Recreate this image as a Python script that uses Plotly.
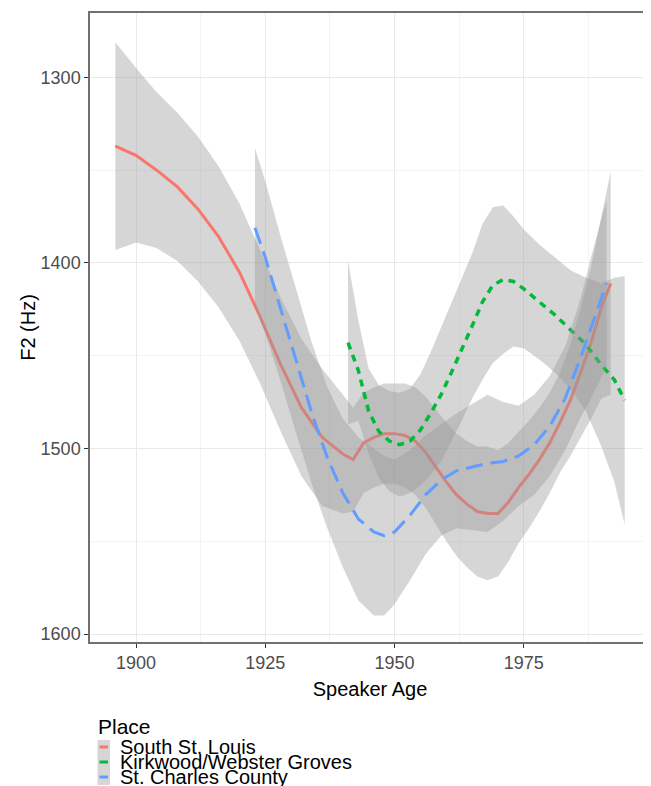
import plotly.graph_objects as go

# ---------------- data ----------------
places = ["South St. Louis", "Kirkwood/Webster Groves", "St. Charles County"]
colors = ["#F8766D", "#00BA38", "#619CFF"]

# South St. Louis
x_red = [1896, 1900, 1904, 1908, 1912, 1916, 1920, 1924, 1928, 1932,
         1936, 1940, 1942, 1944, 1946, 1948, 1950, 1952, 1954, 1956,
         1958, 1960, 1962, 1964, 1966, 1968, 1970, 1972, 1974, 1976,
         1978, 1980, 1982, 1984, 1986, 1988, 1990, 1991.8]
f2_red = [1337, 1342, 1350, 1359, 1371, 1386, 1405, 1429, 1455, 1478,
          1494, 1503, 1506, 1497, 1494, 1492, 1492, 1493, 1496, 1502,
          1510, 1518, 1525, 1530, 1534, 1535, 1535, 1529, 1521, 1514,
          1506, 1497, 1486, 1474, 1459, 1443, 1424, 1411]
ci_red = [56, 47, 42, 40, 39, 38, 37, 36, 36, 37,
          37, 32, 28, 27, 27, 27, 27, 28, 29, 30,
          31, 32, 33, 34, 35, 36, 34, 32, 30, 29,
          28, 27, 27, 30, 35, 41, 49, 60]

# Kirkwood/Webster Groves
x_green = [1941, 1943, 1945, 1947, 1949, 1951, 1953, 1955, 1957, 1959,
           1961, 1963, 1965, 1967, 1969, 1971, 1973, 1975, 1978, 1981,
           1984, 1987, 1990, 1992.5, 1994.5]
f2_green = [1443, 1458, 1480, 1491, 1496, 1498, 1496, 1490, 1481, 1471,
            1459, 1447, 1434, 1421, 1412, 1409, 1410, 1414, 1421, 1428,
            1436, 1444, 1455, 1463, 1474]
ci_green = [44, 27, 23, 25, 27, 28, 28, 30, 33, 36,
            37, 38, 39, 42, 42, 40, 35, 32, 31, 31,
            32, 36, 44, 55, 67]

# St. Charles County
x_blue = [1923, 1925, 1928, 1931, 1934, 1937, 1940, 1943, 1946, 1948,
          1950, 1953, 1956, 1959, 1962, 1965, 1968, 1971, 1974, 1977,
          1980, 1983, 1986, 1988, 1991]
f2_blue = [1381, 1397, 1425, 1453, 1481, 1505, 1524, 1538, 1545, 1547,
           1545, 1536, 1525, 1517, 1512, 1510, 1508, 1507, 1504, 1498,
           1488, 1473, 1451, 1435, 1411]
ci_blue = [43, 41, 39, 39, 38, 38, 40, 44, 45, 43,
           39, 35, 32, 30, 31, 34, 37, 32, 27, 27,
           27, 28, 32, 38, 45]

x_ticks = [1900, 1925, 1950, 1975]
y_ticks = [1300, 1400, 1500, 1600]

series = [
    (x_red, f2_red, ci_red, dict(dash="solid", width=3)),
    (x_green, f2_green, ci_green, dict(dash="7px,6px", width=3.5)),
    (x_blue, f2_blue, ci_blue, dict(dash="17px,8px", width=3)),
]

FONT = "Liberation Sans, Arial, sans-serif"
# the page body adds an 8px offset; the figure is sized to end at the window edge
OFF = 8
W, H = 651 - OFF, 786 - OFF
ML, MR, MT, MB = 82, 1, 5, 144
PW, PH = W - ML - MR, H - MT - MB


def px(xp):  # window pixel -> paper x
    return (xp - OFF - ML) / PW


def py(yp):  # window pixel -> paper y
    return (H - MB - (yp - OFF)) / PH


fig = go.Figure()
for (xs, ys, ci, style), name, col in zip(series, places, colors):
    upper = [y - c for y, c in zip(ys, ci)]
    lower = [y + c for y, c in zip(ys, ci)]
    fig.add_trace(go.Scatter(
        x=xs + xs[::-1], y=upper + lower[::-1],
        fill="toself", fillcolor="rgba(153,153,153,0.4)",
        line=dict(width=0), mode="lines", hoverinfo="skip",
        showlegend=False))
    fig.add_trace(go.Scatter(
        x=xs, y=ys, mode="lines", name=name,
        line=dict(color=col, width=style["width"], dash=style["dash"]),
        showlegend=False))

axis_common = dict(
    automargin=False,
    showgrid=True, gridcolor="#e9e9e9", gridwidth=1,
    zeroline=False, showline=True, mirror=True,
    linecolor="#707070", linewidth=1.5,
    ticks="outside", ticklen=4, tickwidth=1, tickcolor="#333333",
    tickfont=dict(family=FONT, size=18, color="#4d4d4d"),
)

fig.update_xaxes(
    range=[1891.1, 1999.4], tickvals=x_ticks,
    minor=dict(dtick=12.5, tick0=1887.5, showgrid=True,
               gridcolor="#f3f3f3", gridwidth=0.7),
    title=dict(text="Speaker Age", font=dict(family=FONT, size=20, color="#000"),
               standoff=10),
    **axis_common)
fig.update_yaxes(
    range=[1604.3, 1265.3], tickvals=y_ticks,
    minor=dict(dtick=50, tick0=1250, showgrid=True,
               gridcolor="#f3f3f3", gridwidth=0.7),
    title=dict(text="F2 (Hz)", font=dict(family=FONT, size=20, color="#000"),
               standoff=0),
    **axis_common)

# manual legend (ggplot style, tightly packed)
shapes = [dict(type="rect", xref="paper", yref="paper",
               x0=px(97.5), x1=px(110), y0=py(740), y1=py(785),
               fillcolor="#d6d6d6", line=dict(width=0), layer="above")]
annotations = [dict(text="Place", xref="paper", yref="paper", x=px(96), y=py(726),
                    xanchor="left", yanchor="middle", showarrow=False,
                    font=dict(family=FONT, size=21, color="#000"))]
for i, (name, col) in enumerate(zip(places, colors)):
    yc = 747 + 15 * i
    shapes.append(dict(type="line", xref="paper", yref="paper",
                       x0=px(99.5), x1=px(108), y0=py(yc), y1=py(yc),
                       line=dict(color=col, width=3), layer="above"))
    annotations.append(dict(text=name, xref="paper", yref="paper",
                            x=px(118), y=py(yc), xanchor="left", yanchor="middle",
                            showarrow=False,
                            font=dict(family=FONT, size=20, color="#000")))

fig.update_layout(
    width=W, height=H,
    margin=dict(l=ML, r=MR, t=MT, b=MB),
    paper_bgcolor="white", plot_bgcolor="white",
    font=dict(family=FONT),
    showlegend=False,
    shapes=shapes, annotations=annotations,
)

fig.write_html("out.html")
